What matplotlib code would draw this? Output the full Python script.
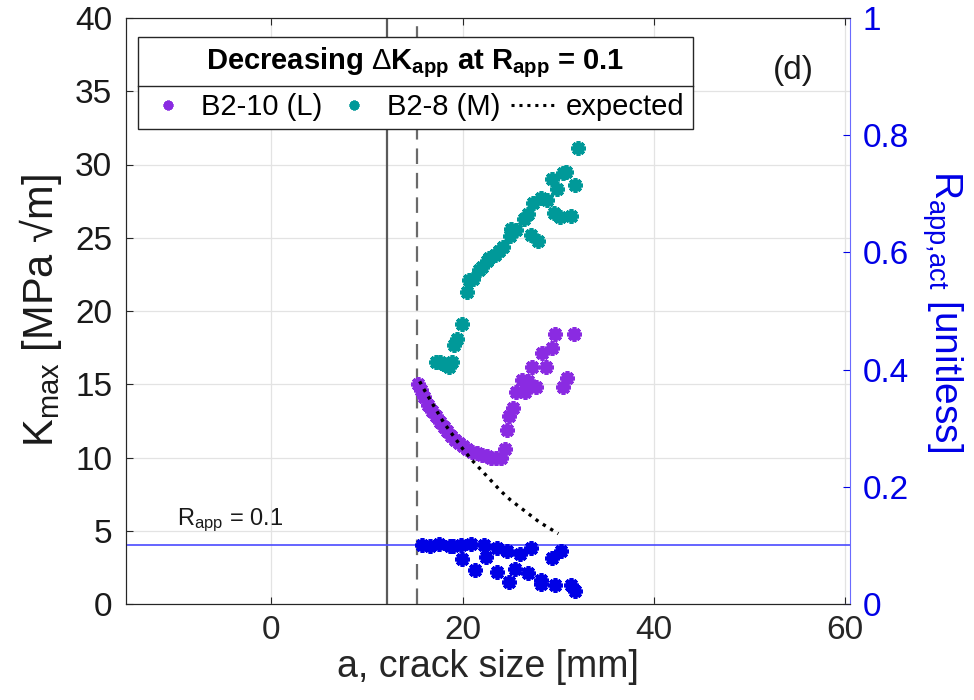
import matplotlib
matplotlib.use("Agg")
import matplotlib.pyplot as plt
from matplotlib.lines import Line2D

plt.rcParams['font.family'] = ['Liberation Sans', 'DejaVu Sans']
plt.rcParams['mathtext.fontset'] = 'custom'
plt.rcParams['mathtext.rm'] = 'Liberation Sans'
plt.rcParams['mathtext.it'] = 'Liberation Sans'
plt.rcParams['mathtext.bf'] = 'Liberation Sans:bold'

# ---------------- data ----------------
l_a = [15.3, 15.6, 16.0, 16.4, 16.8, 17.2, 17.6, 18.0, 18.4, 18.8, 19.2, 19.6, 20.0,
       20.5, 21.0, 21.5, 22.0, 22.5, 23.0, 23.5, 24.0, 24.4, 24.6, 24.8, 25.3, 25.6,
       26.2, 26.5, 26.8, 27.2, 27.7, 28.3, 28.7, 29.3, 29.7, 30.5, 30.9, 31.6]
l_k = [15.0, 14.6, 14.1, 13.6, 13.2, 12.8, 12.4, 12.1, 11.8, 11.5, 11.2, 11.0, 10.8,
       10.6, 10.4, 10.3, 10.2, 10.1, 10.0, 9.95, 10.0, 10.6, 11.9, 12.8, 13.4, 14.5,
       15.3, 14.5, 15.2, 16.2, 14.8, 17.1, 16.2, 17.5, 18.4, 14.8, 15.4, 18.4]

m_a = [17.2, 17.6, 18.0, 18.3, 18.6, 18.9, 19.1, 19.4, 19.9, 20.4, 20.7, 21.1, 21.7,
       22.0, 22.5, 22.8, 23.4, 23.8, 24.2, 24.9, 25.1, 25.6, 26.4, 26.8, 27.1, 27.4,
       27.9, 28.2, 28.8, 29.3, 29.6, 29.9, 30.2, 30.5, 30.8, 31.3, 31.7, 32.1]
m_k = [16.5, 16.5, 16.4, 16.3, 16.2, 16.5, 17.7, 18.1, 19.1, 21.3, 22.1, 22.2, 22.8,
       23.0, 23.4, 23.6, 23.8, 24.1, 24.4, 25.1, 25.6, 25.5, 26.3, 26.6, 25.2, 27.4,
       24.8, 27.7, 27.6, 29.0, 26.7, 28.3, 26.4, 29.4, 29.5, 26.5, 28.6, 31.1]

exp_a = [15.5, 16, 17, 18, 19, 20, 21, 22, 23, 24, 25, 26, 27, 28, 29, 30]
exp_k = [15.2, 14.6, 13.5, 12.4, 11.5, 10.6, 9.8, 9.1, 8.4, 7.7, 7.1, 6.6, 6.1, 5.6, 5.2, 4.8]

r_a = [15.7, 16.6, 17.5, 18.7, 19.0, 19.8, 20.9, 22.2, 23.6, 24.6, 26.0, 27.1, 30.3,
       29.3, 19.9, 22.4, 21.3, 23.6, 25.5, 26.8, 24.8, 28.2, 28.2, 29.7, 31.3, 31.7]
r_r = [0.100, 0.099, 0.102, 0.099, 0.099, 0.100, 0.102, 0.100, 0.096, 0.090, 0.086,
       0.095, 0.091, 0.078, 0.077, 0.080, 0.058, 0.054, 0.060, 0.053, 0.038, 0.041,
       0.035, 0.032, 0.032, 0.023]

r_app = 0.1
a_solid = 12.1
a_dashed = 15.2

x_ticks = [0, 20, 40, 60]
k_ticks = [0, 5, 10, 15, 20, 25, 30, 35, 40]
r_ticks = [0, 0.2, 0.4, 0.6, 0.8, 1]
r_tick_labels = ['0', '0.2', '0.4', '0.6', '0.8', '1']

# ---------------- style ----------------
purple = '#8a2be2'
teal = '#009999'
blue = '#0000e6'
asterisk = (8, 2, 0)
ms = 10.5
mew = 2.7

fig = plt.figure(figsize=(9.74, 7.0), dpi=100)
ax = fig.add_axes([0.1294, 0.1371, 0.7433, 0.8372])
ax2 = ax.twinx()

ax.set_xlim(-15.2, 60.5)
ax.set_ylim(0, 40)
ax2.set_ylim(0, 1)
ax.set_xticks(x_ticks)
ax.set_yticks(k_ticks)
ax2.set_yticks(r_ticks)
ax2.set_yticklabels(r_tick_labels)

ax.grid(True, color='#e3e3e3', lw=0.9)
ax.set_axisbelow(True)

ax.axvline(a_solid, color='#5a5a5a', lw=1.6, zorder=1)
ax.axvline(a_dashed, color='#6a6a6a', lw=1.6, ls=(0, (7, 4)), zorder=1)

ax.plot(l_a, l_k, ls='none', marker=asterisk, ms=ms, mew=mew, color=purple, zorder=3)
ax.plot(m_a, m_k, ls='none', marker=asterisk, ms=ms, mew=mew, color=teal, zorder=3)
ax.plot(exp_a, exp_k, color='black', lw=2.4, ls=(0, (1, 1.6)), zorder=4)

ax2.axhline(r_app, color='#4a4aff', lw=1.2, zorder=2)
ax2.plot(r_a, r_r, ls='none', marker=asterisk, ms=ms, mew=mew, color=blue, zorder=3)

ax.text(-9.9, 5.4, r'R$_{\rm app}$ = 0.1', fontsize=17, color='#1a1a1a', va='baseline', ha='left')
ax.text(54.6, 36.4, '(d)', fontsize=24, color='#1a1a1a', va='center', ha='center')

tick_fs = 24
ax.tick_params(axis='both', direction='in', labelsize=tick_fs, colors='#262626',
               length=5, width=0.8, top=True, pad=8)
ax.tick_params(axis='y', labelcolor='#1a1a1a', pad=10)
ax2.tick_params(axis='y', direction='in', labelsize=tick_fs, colors=blue, length=5,
                width=0.8, pad=9)
for s in ['left', 'bottom', 'top']:
    ax.spines[s].set_color('#262626')
    ax2.spines[s].set_color('#262626')
ax2.spines['right'].set_color('#6a6aff')
ax.spines['right'].set_visible(False)

ax.set_xlabel('a, crack size [mm]', fontsize=27, color='#262626', labelpad=2)
ax.set_ylabel(r'K$_{\rm max}$ [MPa √m]', fontsize=30, color='#1a1a1a', labelpad=8)
ax2.set_ylabel(r'R$_{\rm app{,}act}$ [unitless]', fontsize=28, color=blue, rotation=270,
               labelpad=40)

handles = [
    Line2D([], [], ls='none', marker=asterisk, ms=7, mew=2.2, color=purple),
    Line2D([], [], ls='none', marker=asterisk, ms=7, mew=2.2, color=teal),
    Line2D([], [], color='black', lw=2.2, ls=(0, (1, 1.6))),
]
labels = ['B2-10 (L)', 'B2-8 (M)', 'expected']
leg = ax2.legend(handles, labels, ncol=3, loc='upper left',
                 bbox_to_anchor=(0.0166, 0.9676), borderaxespad=0,
                 title=r'Decreasing $\Delta\mathbf{K}_{\mathbf{app}}$ at $\mathbf{R}_{\mathbf{app}}$ = 0.1',
                 title_fontproperties={'size': 21, 'weight': 'bold'},
                 fontsize=21, frameon=True, fancybox=False, edgecolor='#262626',
                 framealpha=1, handlelength=1.5, handletextpad=0.38, columnspacing=0.35,
                 borderpad=0.28, labelspacing=0.45)
leg.get_frame().set_linewidth(1.0)
leg.set_zorder(10)

fig.canvas.draw()
renderer = fig.canvas.get_renderer()
lb = leg.get_window_extent(renderer)
tb = leg.get_title().get_window_extent(renderer)
hb = leg._legend_handle_box.get_window_extent(renderer)
ysep = 0.5 * (tb.y0 + hb.y1)
fig.add_artist(Line2D([lb.x0 / fig.bbox.width, lb.x1 / fig.bbox.width],
                      [ysep / fig.bbox.height, ysep / fig.bbox.height],
                      color='#262626', lw=1.0, zorder=20))

fig.savefig('out.png', dpi=100)
